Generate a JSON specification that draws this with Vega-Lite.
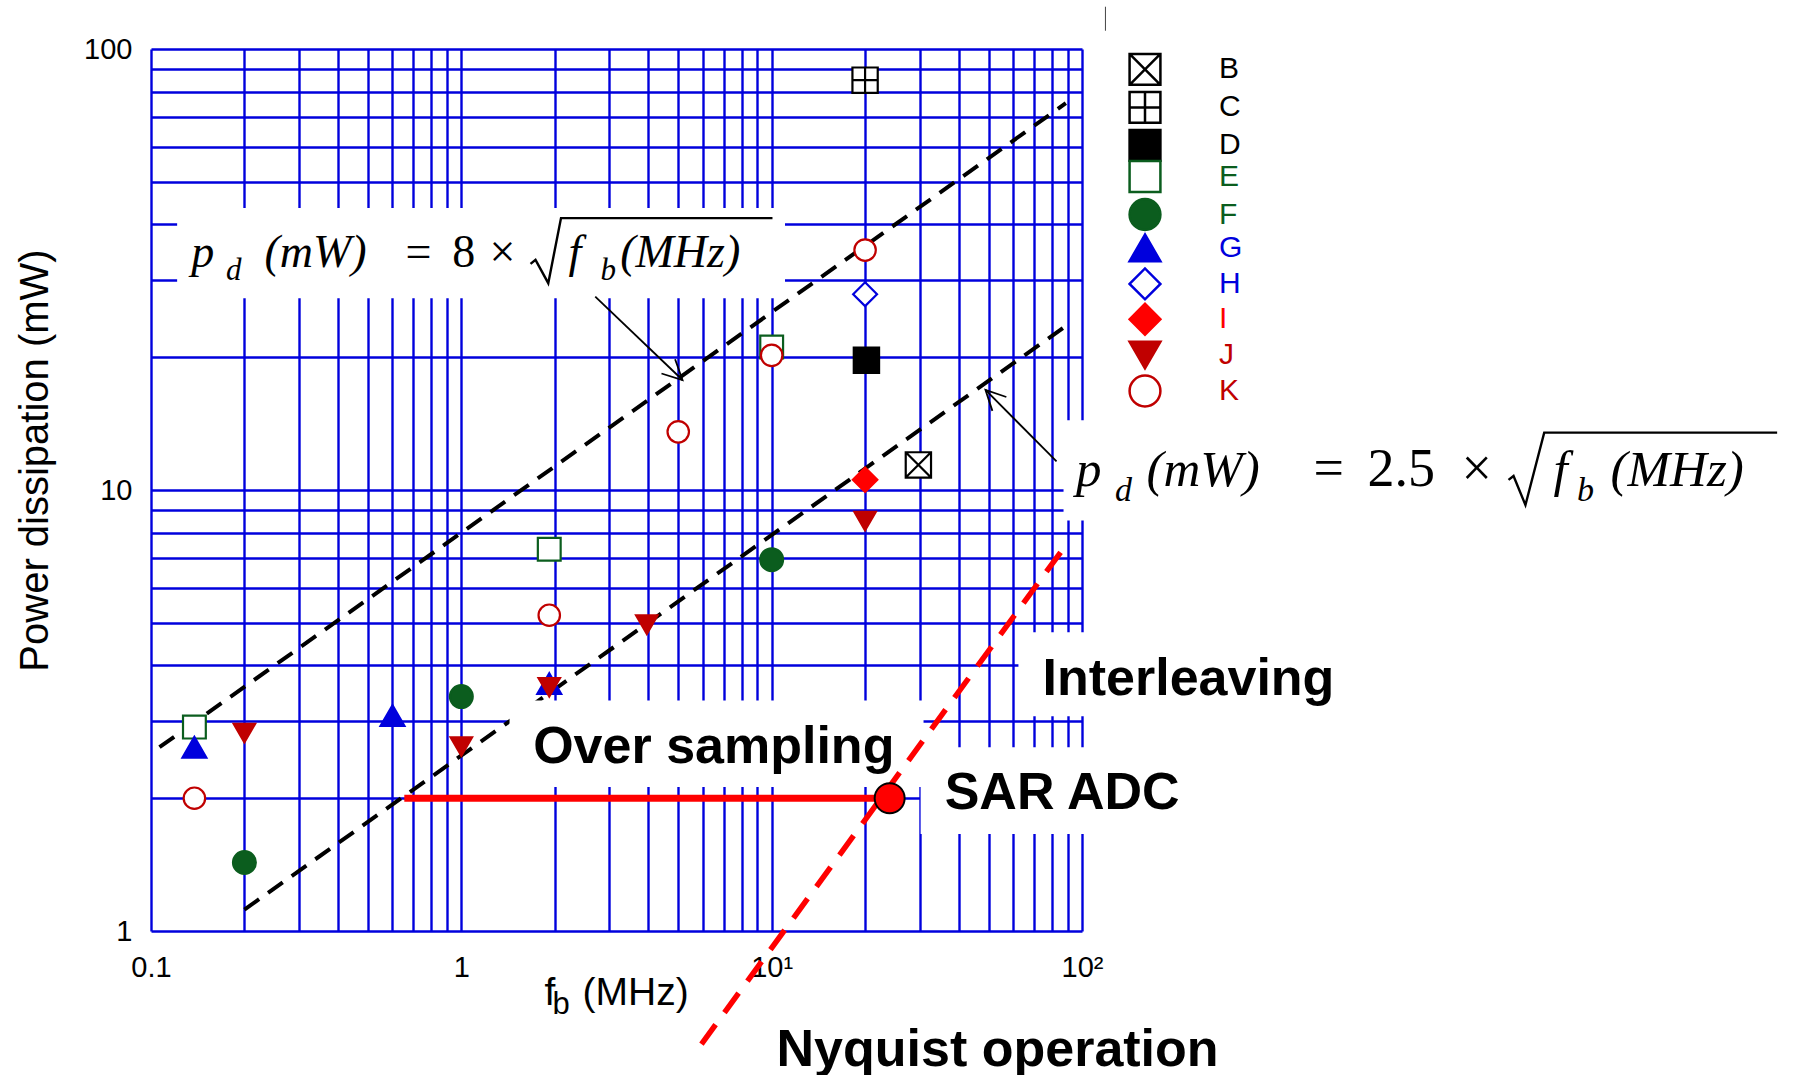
{
  "$schema": "https://vega.github.io/schema/vega-lite/v6.json",
  "width": 931,
  "height": 882,
  "autosize": {"type": "none"},
  "padding": {"left": 151, "top": 49, "right": 716, "bottom": 144},
  "background": "white",
  "config": {
    "view": {"stroke": null},
    "font": "Liberation Sans",
    "legend": {
      "orient": "none", "legendX": 977, "padding": 0,
      "symbolSize": 950, "symbolStrokeWidth": 2.5, "symbolOpacity": 1,
      "labelFont": "Liberation Sans", "labelFontSize": 30, "labelOffset": 57, "rowPadding": -5.5
    }
  },
  "resolve": {
    "scale": {"shape": "independent", "fill": "independent", "stroke": "independent"},
    "legend": {"shape": "independent", "fill": "independent", "stroke": "independent"}
  },
  "datasets": {
    "pts": [
      {"s": "B", "f": 29.7, "p": 11.4},
      {"s": "C", "f": 20, "p": 85},
      {"s": "D", "f": 20.2, "p": 19.7},
      {"s": "E", "f": 0.138, "p": 2.9},
      {"s": "E", "f": 1.92, "p": 7.34},
      {"s": "E", "f": 10, "p": 21.1},
      {"s": "F", "f": 0.2, "p": 1.43},
      {"s": "F", "f": 1, "p": 3.4},
      {"s": "F", "f": 10, "p": 6.95},
      {"s": "G", "f": 0.138, "p": 2.61},
      {"s": "G", "f": 0.6, "p": 3.08},
      {"s": "G", "f": 1.92, "p": 3.64},
      {"s": "H", "f": 20, "p": 27.8},
      {"s": "I", "f": 20, "p": 10.55},
      {"s": "J", "f": 0.2, "p": 2.81},
      {"s": "J", "f": 1, "p": 2.62},
      {"s": "J", "f": 1.92, "p": 3.57},
      {"s": "J", "f": 3.96, "p": 4.95},
      {"s": "J", "f": 20, "p": 8.5},
      {"s": "K", "f": 0.138, "p": 2.0},
      {"s": "K", "f": 1.92, "p": 5.2},
      {"s": "K", "f": 5, "p": 13.55},
      {"s": "K", "f": 10, "p": 20.2},
      {"s": "K", "f": 20, "p": 35}
    ],
    "guides": [
      {"g": "8", "f": 0.1065, "p": 2.611},
      {"g": "8", "f": 88.7, "p": 75.34},
      {"g": "2.5", "f": 0.2, "p": 1.118},
      {"g": "2.5", "f": 88.2, "p": 23.48}
    ],
    "boxes": [
      {"f": 0.1214, "f2": 11.04, "p": 27.2, "p2": 43.6},
      {"f": 1.43, "f2": 30.86, "p": 2.12, "p2": 3.33},
      {"f": 62.4, "f2": 110, "p": 3.07, "p2": 4.76},
      {"f": 30.2, "f2": 110, "p": 1.66, "p2": 2.61},
      {"f": 87.2, "f2": 110, "p": 8.53, "p2": 14.4}
    ],
    "arrows": [
      {"id": "a", "f": 2.701, "p": 27.45, "f2": 5.161, "p2": 17.76},
      {"id": "b", "f": 82.78, "p": 11.61, "f2": 48.87, "p2": 16.86}
    ],
    "heads": [
      {"id": "a", "f": 5.161, "p": 17.76},
      {"id": "b", "f": 48.87, "p": 16.86}
    ],
    "stray": [{"f": 119, "p": 110, "p2": 124.7}],
    "sarline": [{"f": 0.655, "p": 2}, {"f": 24, "p": 2}],
    "nyquist": [{"f": 5.94, "p": 0.554}, {"f": 87.2, "p": 7.38}],
    "sar": [{"f": 24, "p": 2}],
    "notes": [
      {"t": "Over sampling", "f": 1.704, "p": 2.41},
      {"t": "Interleaving", "f": 74.6, "p": 3.42},
      {"t": "SAR ADC", "f": 36.1, "p": 1.893},
      {"t": "Nyquist operation", "f": 10.37, "p": 0.495}
    ],
    "math": [
      {"eq": "8", "role": "it", "t": "p", "f": 0.1347, "p": 32.1},
      {"eq": "8", "role": "sub", "t": "d", "f": 0.1744, "p": 29.96},
      {"eq": "8", "role": "it", "t": "(mW)", "f": 0.2321, "p": 32.1},
      {"eq": "8", "role": "up", "t": "=", "f": 0.6607, "p": 32.1},
      {"eq": "8", "role": "up", "t": "8", "f": 0.9346, "p": 32.1},
      {"eq": "8", "role": "up", "t": "×", "f": 1.2325, "p": 32.1},
      {"eq": "8", "role": "it", "t": "f", "f": 2.214, "p": 32.1},
      {"eq": "8", "role": "sub", "t": "b", "f": 2.809, "p": 29.96},
      {"eq": "8", "role": "it", "t": "(MHz)", "f": 3.25, "p": 32.1},
      {"eq": "2.5", "role": "it", "t": "p", "f": 95.65, "p": 10.21},
      {"eq": "2.5", "role": "sub", "t": "d", "f": 127.8, "p": 9.456},
      {"eq": "2.5", "role": "it", "t": "(mW)", "f": 161.4, "p": 10.21},
      {"eq": "2.5", "role": "up", "t": "=", "f": 557.2, "p": 10.21},
      {"eq": "2.5", "role": "up", "t": "2.5", "f": 831.8, "p": 10.21},
      {"eq": "2.5", "role": "up", "t": "×", "f": 1671, "p": 10.21},
      {"eq": "2.5", "role": "it", "t": "f", "f": 3306, "p": 10.21},
      {"eq": "2.5", "role": "sub", "t": "b", "f": 3939, "p": 9.456},
      {"eq": "2.5", "role": "it", "t": "(MHz)", "f": 5050, "p": 10.21}
    ],
    "radical": [
      {"eq": "8", "o": 1, "f": 1.671, "p": 32.57},
      {"eq": "8", "o": 2, "f": 1.734, "p": 33.26},
      {"eq": "8", "o": 3, "f": 1.906, "p": 29.44},
      {"eq": "8", "o": 4, "f": 2.095, "p": 41.35},
      {"eq": "8", "o": 5, "f": 10.06, "p": 41.35},
      {"eq": "2.5", "o": 1, "f": 2368, "p": 10.54},
      {"eq": "2.5", "o": 2, "f": 2458, "p": 10.76},
      {"eq": "2.5", "o": 3, "f": 2685, "p": 9.247},
      {"eq": "2.5", "o": 4, "f": 3086, "p": 13.49},
      {"eq": "2.5", "o": 5, "f": 17377, "p": 13.49}
    ],
    "xtitle": [
      {"role": "main", "t": "f", "f": 1.854, "p": 0.678},
      {"role": "sub", "t": "b", "f": 1.967, "p": 0.65},
      {"role": "main", "t": "(MHz)", "f": 2.458, "p": 0.678}
    ]
  },
  "encoding": {
    "x": {
      "field": "f",
      "type": "quantitative",
      "scale": {"type": "log", "domain": [0.1, 100], "nice": false, "zero": false},
      "axis": {
        "title": null,
        "values": [0.1, 0.2, 0.3, 0.4, 0.5, 0.6, 0.7, 0.8, 0.9, 1, 2, 3, 4, 5, 6, 7, 8, 9, 10, 20, 30, 40, 50, 60, 70, 80, 90, 100],
        "grid": true,
        "gridColor": "#0000dd",
        "gridWidth": 2.4,
        "gridOpacity": 1,
        "domain": false,
        "ticks": false,
        "tickSize": 0,
        "labelExpr": "datum.value == 0.1 ? '0.1' : datum.value == 1 ? '1' : datum.value == 10 ? '10¹' : datum.value == 100 ? '10²' : ''",
        "labelFont": "Liberation Sans",
        "labelFontSize": 29,
        "labelColor": "black",
        "labelPadding": 22,
        "labelFlush": false,
        "labelOverlap": false,
        "labelAngle": 0
      }
    },
    "y": {
      "field": "p",
      "type": "quantitative",
      "scale": {"type": "log", "domain": [1, 100], "nice": false, "zero": false},
      "axis": {
        "title": "Power dissipation (mW)",
        "titleFont": "Liberation Sans",
        "titleFontSize": 40,
        "titleFontWeight": "normal",
        "titleColor": "black",
        "titleAngle": -90,
        "titleX": -104,
        "titleY": 411,
        "titleAlign": "center",
        "titleBaseline": "alphabetic",
        "values": [1, 2, 3, 4, 5, 6, 7, 8, 9, 10, 20, 30, 40, 50, 60, 70, 80, 90, 100],
        "grid": true,
        "gridColor": "#0000dd",
        "gridWidth": 2.4,
        "gridOpacity": 1,
        "domain": false,
        "ticks": false,
        "tickSize": 0,
        "labelExpr": "datum.value == 1 ? '1' : datum.value == 10 ? '10' : datum.value == 100 ? '100' : ''",
        "labelFont": "Liberation Sans",
        "labelFontSize": 29,
        "labelColor": "black",
        "labelPadding": 19,
        "labelOverlap": false
      }
    }
  },
  "layer": [
    {
      "data": {"name": "guides"},
      "mark": {"type": "line", "color": "black", "strokeWidth": 4, "strokeDash": [18, 11]},
      "encoding": {"detail": {"field": "g"}}
    },
    {
      "data": {"name": "boxes"},
      "mark": {"type": "rect", "fill": "white"},
      "encoding": {"x2": {"field": "f2"}, "y2": {"field": "p2"}}
    },
    {
      "data": {"name": "arrows"},
      "mark": {"type": "rule", "color": "black", "strokeWidth": 1.8},
      "encoding": {"x2": {"field": "f2"}, "y2": {"field": "p2"}}
    },
    {
      "data": {"name": "heads"},
      "transform": [{"filter": "datum.id == 'a'"}],
      "mark": {"type": "point", "shape": "M-0.5,-1L0,0L0.5,-1", "angle": 313.7, "size": 1550, "stroke": "black", "fill": null, "strokeWidth": 1.8, "opacity": 1}
    },
    {
      "data": {"name": "heads"},
      "transform": [{"filter": "datum.id == 'b'"}],
      "mark": {"type": "point", "shape": "M-0.5,-1L0,0L0.5,-1", "angle": 135.2, "size": 1550, "stroke": "black", "fill": null, "strokeWidth": 1.8, "opacity": 1}
    },
    {
      "data": {"name": "stray"},
      "mark": {"type": "rule", "color": "#444444", "strokeWidth": 1},
      "encoding": {"y2": {"field": "p2"}}
    },
    {
      "data": {"name": "sarline"},
      "mark": {"type": "line", "color": "#ff0000", "strokeWidth": 7},
      "encoding": {}
    },
    {
      "data": {"name": "nyquist"},
      "mark": {"type": "line", "color": "#ff0000", "strokeWidth": 5.5, "strokeDash": [24, 15]},
      "encoding": {}
    },
    {
      "data": {"name": "pts"},
      "transform": [{"filter": "indexof(['B','C','D'], datum.s) >= 0"}],
      "mark": {"type": "point", "opacity": 1, "strokeWidth": 2.2, "size": 640},
      "encoding": {
        "shape": {"field": "s", "type": "nominal", "scale": {"domain": ["B", "C", "D"], "range": ["M-1,-1H1V1H-1Z M-1,-1L1,1 M1,-1L-1,1", "M-1,-1H1V1H-1Z M0,-1V1 M-1,0H1", "square"]}, "legend": {"title": null, "legendY": 3.4, "labelColor": "#000000"}},
        "fill": {"field": "s", "type": "nominal", "scale": {"domain": ["B", "C", "D"], "range": ["#ffffff", "#ffffff", "#000000"]}, "legend": {"title": null, "legendY": 3.4, "labelColor": "#000000"}},
        "stroke": {"field": "s", "type": "nominal", "scale": {"domain": ["B", "C", "D"], "range": ["#000000", "#000000", "#000000"]}, "legend": {"title": null, "legendY": 3.4, "labelColor": "#000000"}}
      }
    },
    {
      "data": {"name": "pts"},
      "transform": [{"filter": "indexof(['E','F'], datum.s) >= 0"}],
      "mark": {"type": "point", "opacity": 1, "strokeWidth": 2.2, "size": 520},
      "encoding": {
        "shape": {"field": "s", "type": "nominal", "scale": {"domain": ["E", "F"], "range": ["square", "circle"]}, "legend": {"title": null, "legendY": 110.5, "labelColor": "#0b5d1e"}},
        "fill": {"field": "s", "type": "nominal", "scale": {"domain": ["E", "F"], "range": ["#ffffff", "#0b5d1e"]}, "legend": {"title": null, "legendY": 110.5, "labelColor": "#0b5d1e"}},
        "stroke": {"field": "s", "type": "nominal", "scale": {"domain": ["E", "F"], "range": ["#0b5d1e", "#0b5d1e"]}, "legend": {"title": null, "legendY": 110.5, "labelColor": "#0b5d1e"}}
      }
    },
    {
      "data": {"name": "pts"},
      "transform": [{"filter": "indexof(['G','H'], datum.s) >= 0"}],
      "mark": {"type": "point", "opacity": 1, "strokeWidth": 2.2, "size": 570},
      "encoding": {
        "shape": {"field": "s", "type": "nominal", "scale": {"domain": ["G", "H"], "range": ["triangle-up", "diamond"]}, "legend": {"title": null, "legendY": 181.9, "labelColor": "#0000dd"}},
        "fill": {"field": "s", "type": "nominal", "scale": {"domain": ["G", "H"], "range": ["#0000dd", "#ffffff"]}, "legend": {"title": null, "legendY": 181.9, "labelColor": "#0000dd"}},
        "stroke": {"field": "s", "type": "nominal", "scale": {"domain": ["G", "H"], "range": ["#0000dd", "#0000dd"]}, "legend": {"title": null, "legendY": 181.9, "labelColor": "#0000dd"}}
      }
    },
    {
      "data": {"name": "pts"},
      "transform": [{"filter": "datum.s == 'I'"}],
      "mark": {"type": "point", "opacity": 1, "strokeWidth": 2.2, "size": 600},
      "encoding": {
        "shape": {"field": "s", "type": "nominal", "scale": {"domain": ["I"], "range": ["diamond"]}, "legend": {"title": null, "legendY": 253.3, "labelColor": "#ff0000"}},
        "fill": {"field": "s", "type": "nominal", "scale": {"domain": ["I"], "range": ["#ff0000"]}, "legend": {"title": null, "legendY": 253.3, "labelColor": "#ff0000"}},
        "stroke": {"field": "s", "type": "nominal", "scale": {"domain": ["I"], "range": ["#ff0000"]}, "legend": {"title": null, "legendY": 253.3, "labelColor": "#ff0000"}}
      }
    },
    {
      "data": {"name": "pts"},
      "transform": [{"filter": "indexof(['J','K'], datum.s) >= 0"}],
      "mark": {"type": "point", "opacity": 1, "strokeWidth": 2.2, "size": 460},
      "encoding": {
        "shape": {"field": "s", "type": "nominal", "scale": {"domain": ["J", "K"], "range": ["triangle-down", "circle"]}, "legend": {"title": null, "legendY": 289, "labelColor": "#c00000"}},
        "fill": {"field": "s", "type": "nominal", "scale": {"domain": ["J", "K"], "range": ["#c00000", "#ffffff"]}, "legend": {"title": null, "legendY": 289, "labelColor": "#c00000"}},
        "stroke": {"field": "s", "type": "nominal", "scale": {"domain": ["J", "K"], "range": ["#c00000", "#c00000"]}, "legend": {"title": null, "legendY": 289, "labelColor": "#c00000"}}
      }
    },
    {
      "data": {"name": "sar"},
      "mark": {"type": "point", "shape": "circle", "filled": true, "fill": "#ff0000", "stroke": "black", "strokeWidth": 2, "size": 900, "opacity": 1}
    },
    {
      "data": {"name": "notes"},
      "mark": {"type": "text", "align": "left", "baseline": "alphabetic", "font": "Liberation Sans", "fontWeight": "bold", "fontSize": 52, "color": "black"},
      "encoding": {"text": {"field": "t"}}
    },
    {
      "data": {"name": "math"},
      "transform": [{"filter": "datum.eq == '8' && datum.role == 'it'"}],
      "mark": {"type": "text", "align": "left", "baseline": "alphabetic", "font": "Liberation Serif", "fontStyle": "italic", "fontSize": 46, "color": "black"},
      "encoding": {"text": {"field": "t"}}
    },
    {
      "data": {"name": "math"},
      "transform": [{"filter": "datum.eq == '8' && datum.role == 'up'"}],
      "mark": {"type": "text", "align": "left", "baseline": "alphabetic", "font": "Liberation Serif", "fontSize": 46, "color": "black"},
      "encoding": {"text": {"field": "t"}}
    },
    {
      "data": {"name": "math"},
      "transform": [{"filter": "datum.eq == '8' && datum.role == 'sub'"}],
      "mark": {"type": "text", "align": "left", "baseline": "alphabetic", "font": "Liberation Serif", "fontStyle": "italic", "fontSize": 31, "color": "black"},
      "encoding": {"text": {"field": "t"}}
    },
    {
      "data": {"name": "math"},
      "transform": [{"filter": "datum.eq == '2.5' && datum.role == 'it'"}],
      "mark": {"type": "text", "align": "left", "baseline": "alphabetic", "font": "Liberation Serif", "fontStyle": "italic", "fontSize": 51, "color": "black"},
      "encoding": {"text": {"field": "t"}}
    },
    {
      "data": {"name": "math"},
      "transform": [{"filter": "datum.eq == '2.5' && datum.role == 'up'"}],
      "mark": {"type": "text", "align": "left", "baseline": "alphabetic", "font": "Liberation Serif", "fontSize": 54, "color": "black"},
      "encoding": {"text": {"field": "t"}}
    },
    {
      "data": {"name": "math"},
      "transform": [{"filter": "datum.eq == '2.5' && datum.role == 'sub'"}],
      "mark": {"type": "text", "align": "left", "baseline": "alphabetic", "font": "Liberation Serif", "fontStyle": "italic", "fontSize": 34, "color": "black"},
      "encoding": {"text": {"field": "t"}}
    },
    {
      "data": {"name": "radical"},
      "mark": {"type": "line", "color": "black", "strokeWidth": 2.4},
      "encoding": {"detail": {"field": "eq"}, "order": {"field": "o", "type": "quantitative"}}
    },
    {
      "data": {"name": "xtitle"},
      "transform": [{"filter": "datum.role == 'main'"}],
      "mark": {"type": "text", "align": "left", "baseline": "alphabetic", "font": "Liberation Sans", "fontSize": 39, "color": "black"},
      "encoding": {"text": {"field": "t"}}
    },
    {
      "data": {"name": "xtitle"},
      "transform": [{"filter": "datum.role == 'sub'"}],
      "mark": {"type": "text", "align": "left", "baseline": "alphabetic", "font": "Liberation Sans", "fontSize": 31, "color": "black"},
      "encoding": {"text": {"field": "t"}}
    }
  ]
}
